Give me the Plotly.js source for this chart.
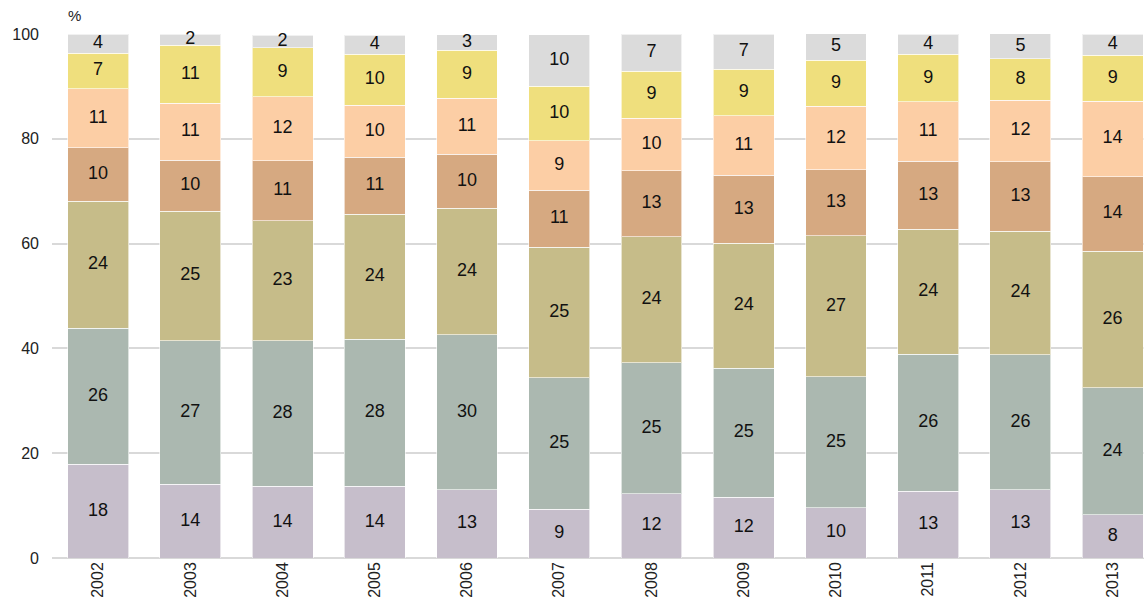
<!DOCTYPE html>
<html>
<head>
<meta charset="utf-8">
<script src="https://cdn.plot.ly/plotly-3.0.1.min.js"></script>
<style>html,body{margin:0;padding:0;background:#fff;}#chart{width:1144px;height:600px;}</style>
</head>
<body>
<div id="chart"></div>
<script>
const years = ['2002','2003','2004','2005','2006','2007','2008','2009','2010','2011','2012','2013'];
const s1 = [17.9, 14.1, 13.7, 13.7, 13.0, 9.35, 12.3, 11.6, 9.6, 12.7, 13.0, 8.3];
const s2 = [25.9, 27.4, 27.8, 28.0, 29.6, 25.05, 25.0, 24.6, 25.0, 26.2, 25.8, 24.2];
const s3 = [24.3, 24.7, 22.9, 23.9, 24.1, 24.9, 24.0, 23.9, 26.9, 23.8, 23.6, 26.0];
const s4 = [10.2, 9.7, 11.4, 10.9, 10.4, 10.9, 12.6, 12.9, 12.6, 13.0, 13.2, 14.3];
const s5 = [11.3, 10.9, 12.2, 9.9, 10.6, 9.4, 10.0, 11.4, 12.1, 11.4, 11.8, 14.4];
const s6 = [6.7, 11.1, 9.4, 9.7, 9.2, 10.4, 9.0, 8.9, 8.8, 9.0, 7.9, 8.7];
const s7 = [3.7, 2.1, 2.4, 3.7, 3.0, 9.9, 7.1, 6.7, 5.2, 3.9, 4.8, 4.1];

const series = [s1, s2, s3, s4, s5, s6, s7];
const colors = ['#C6BECB', '#ABB8B0', '#C6BC89', '#D6A981', '#FCCEA5', '#EFDF7D', '#DBDBDB'];
const FONT = 'Liberation Sans, Arial, sans-serif';

const traces = series.map((vals, i) => ({
  type: 'bar',
  x: years,
  y: vals,
  marker: {color: colors[i], line: {color: 'rgba(255,255,255,0.6)', width: 1}},
  hoverinfo: 'skip',
  showlegend: false
}));

// value labels at the middle of each stacked segment
const base = years.map(() => 0);
series.forEach((vals) => {
  const mids = vals.map((v, j) => base[j] + v / 2);
  traces.push({
    type: 'scatter',
    mode: 'text',
    x: years,
    y: mids,
    text: vals.map(v => String(Math.round(v))),
    textposition: 'middle center',
    textfont: {family: FONT, size: 18, color: '#111'},
    cliponaxis: false,
    hoverinfo: 'skip',
    showlegend: false
  });
  vals.forEach((v, j) => { base[j] += v; });
});

const layout = {
  width: 1144,
  height: 600,
  barmode: 'stack',
  bargap: 0.34,
  margin: {l: 52, r: 0, t: 34, b: 42},
  paper_bgcolor: '#fff',
  plot_bgcolor: '#fff',
  font: {family: FONT, size: 16, color: '#222'},
  xaxis: {
    type: 'category',
    range: [-0.5, 11.34],
    tickangle: -90,
    tickfont: {size: 16, color: '#222'},
    showgrid: false,
    showline: false,
    ticks: '',
    fixedrange: true
  },
  yaxis: {
    range: [0, 100],
    tickvals: [0, 20, 40, 60, 80, 100],
    tickfont: {size: 16, color: '#222'},
    ticklabelstandoff: 12,
    showgrid: true,
    gridcolor: '#D9D9D9',
    gridwidth: 2,
    zeroline: true,
    zerolinecolor: '#D9D9D9',
    zerolinewidth: 2,
    ticks: '',
    ticklen: 0,
    fixedrange: true
  },
  annotations: [{
    text: '%', xref: 'paper', yref: 'paper', x: 0.013, y: 1.0, yshift: 8,
    xanchor: 'left', yanchor: 'bottom', showarrow: false,
    font: {size: 15, color: '#222'}
  }]
};

Plotly.newPlot('chart', traces, layout, {displayModeBar: false, staticPlot: true});
</script>
</body>
</html>
